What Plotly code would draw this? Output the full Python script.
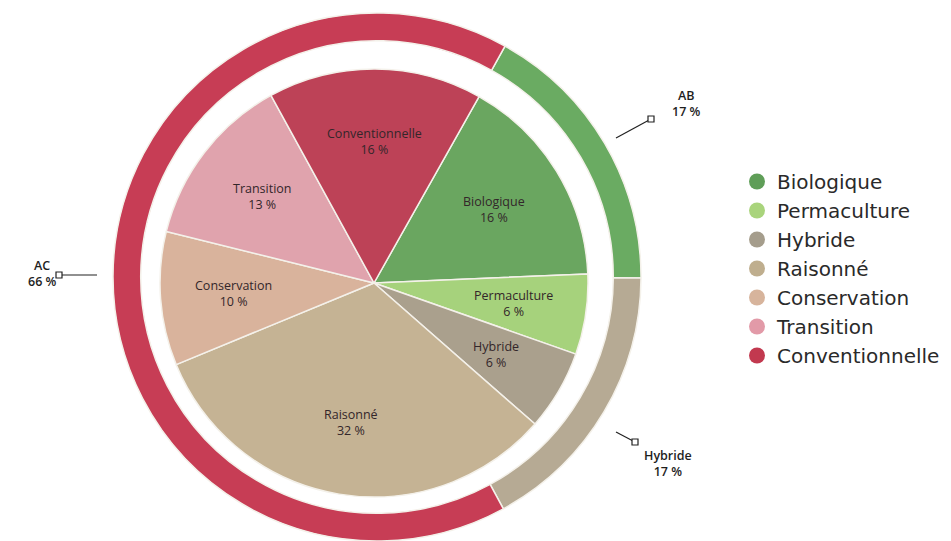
import math
import plotly.graph_objects as go

# ---- data ----
inner_labels = ["Biologique", "Permaculture", "Hybride", "Raisonné", "Conservation", "Transition", "Conventionnelle"]
inner_values = [16, 6, 6, 32, 10, 13, 16]
inner_colors = ["#6aa660", "#a6d27c", "#aaa08d", "#c5b394", "#d9b39c", "#e0a3ad", "#bd4257"]

outer_labels = ["AB", "Hybride", "AC"]
outer_values = [17, 17, 66]
outer_colors = ["#6aab62", "#b6aa94", "#c73d55"]

legend_colors = ["#5f9e58", "#a9d47c", "#a59d8c", "#bfae8e", "#d7b49c", "#e29aa8", "#c2394f"]

INNER_ROT = 29.4
OUTER_ROT = 29

# figure sized to fit inside the page body (8px default body margin)
OFF = 8
W, H = 951 - OFF, 541 - OFF


def px(x):
    return (x - OFF) / W


def py(y):
    return 1 - (y - OFF) / H


fig = go.Figure()

# outer ring
ring_cx, ring_cy, ring_r = 377, 277, 264
fig.add_trace(go.Pie(
    labels=outer_labels, values=outer_values, sort=False, direction="clockwise",
    rotation=OUTER_ROT, hole=0.895, textinfo="none", hoverinfo="skip",
    marker=dict(colors=outer_colors, line=dict(color="#f4f1ea", width=1.5)),
    domain=dict(x=[px(ring_cx - ring_r), px(ring_cx + ring_r)],
                y=[max(0, py(ring_cy + ring_r)), py(ring_cy - ring_r)]),
    showlegend=False,
))

# inner pie
cx, cy, r = 374, 283, 214
fig.add_trace(go.Pie(
    labels=inner_labels, values=inner_values, sort=False, direction="clockwise",
    rotation=INNER_ROT, textinfo="none", hoverinfo="skip",
    marker=dict(colors=inner_colors, line=dict(color="#f4f1ea", width=1.5)),
    domain=dict(x=[px(cx - r), px(cx + r)], y=[py(cy + r), py(cy - r)]),
    showlegend=False,
))

# slice labels placed along each slice's mid-angle
annotations = []
total = sum(inner_values)
acc = 0.0
for lab, v in zip(inner_labels, inner_values):
    mid = INNER_ROT + (acc + v / 2) / total * 360
    acc += v
    a = math.radians(mid)
    lx = cx + 0.66 * r * math.sin(a)
    ly = cy - 0.66 * r * math.cos(a)
    annotations.append(dict(
        x=px(lx), y=py(ly), xref="paper", yref="paper", xanchor="center", yanchor="middle",
        text=f"{lab}<br>{v} %", showarrow=False,
        font=dict(family="Open Sans", size=12.5, color="#33262a"), align="center",
    ))

# legend entries (circle markers)
for lab, col in zip(inner_labels, legend_colors):
    fig.add_trace(go.Scatter(
        x=[None], y=[None], mode="markers", name=lab,
        marker=dict(symbol="circle", size=16, color=col),
        hoverinfo="skip",
    ))

# outer ring callouts
callouts = [
    ("AB<br>17 %", 686, 103, (616, 138), (651, 119)),
    ("AC<br>66 %", 42, 273, (97, 275), (59, 275)),
    ("Hybride<br>17 %", 668, 463, (616, 432), (635, 442)),
]
shapes = []
for txt, tx, ty, p0, p1 in callouts:
    annotations.append(dict(
        x=px(tx), y=py(ty), xref="paper", yref="paper", xanchor="center", yanchor="middle",
        text=txt, showarrow=False,
        font=dict(family="Open Sans", size=12.5, color="#1e1e1e", weight=600), align="center",
    ))
    shapes.append(dict(type="line", xref="paper", yref="paper",
                       x0=px(p0[0]), y0=py(p0[1]), x1=px(p1[0]), y1=py(p1[1]),
                       line=dict(color="#222", width=1.2)))
    shapes.append(dict(type="rect", xref="paper", yref="paper",
                       x0=px(p1[0] - 3), y0=py(p1[1] - 3), x1=px(p1[0] + 3), y1=py(p1[1] + 3),
                       line=dict(color="#222", width=1.2), fillcolor="white"))

fig.update_layout(
    width=W, height=H,
    margin=dict(l=0, r=0, t=0, b=0),
    paper_bgcolor="white", plot_bgcolor="white",
    xaxis=dict(visible=False), yaxis=dict(visible=False),
    showlegend=True,
    legend=dict(x=px(737), y=py(268.5), xanchor="left", yanchor="middle",
                font=dict(family="DejaVu Sans", size=20, color="#2a2a2a"),
                itemsizing="trace", bgcolor="rgba(0,0,0,0)"),
    shapes=shapes, annotations=annotations,
)

fig.write_html("out.html")
